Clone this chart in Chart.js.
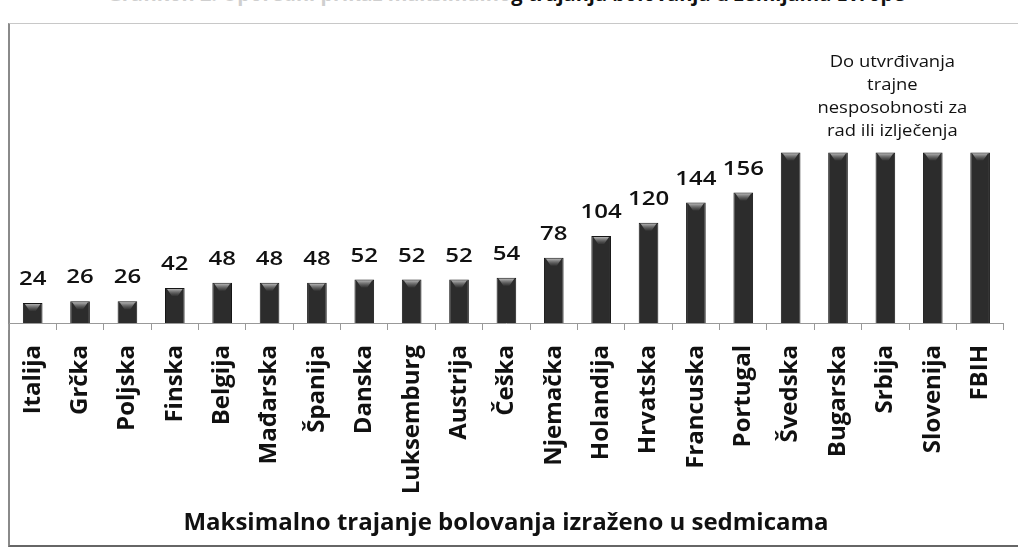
<!DOCTYPE html>
<html>
<head>
<meta charset="utf-8">
<script src="https://cdn.jsdelivr.net/npm/chart.js@4"></script>
<style>
  html, body { margin:0; padding:0; background:#fff; }
  #wrap { position:relative; width:1018px; height:550px; overflow:hidden; background:#fff; }
  #frame { position:absolute; left:8px; top:23px; width:1030px; height:521px;
           border-left:2px solid #8a8a8a; border-top:1px solid #c8c8c8; border-bottom:2px solid #666; }
  #toptitle { position:absolute; top:-20px; right:113px; font:bold 20px "Open Sans", sans-serif;
              white-space:nowrap; color:#111; }
  #toptitle .faint { color:#cfcfcf; }
  canvas { position:absolute; left:0; top:0; }
</style>
</head>
<body>
<div id="wrap">
  <div id="toptitle"><span class="faint">Grafikon 2. Uporedni prikaz maksimalno</span>g trajanja bolovanja u zemljama Evrope</div>
  <div id="frame"></div>
  <canvas id="c" width="1024" height="550"></canvas>
</div>
<script>
// ---- data ----
const categories = ["Italija","Grčka","Poljska","Finska","Belgija","Mađarska","Španija","Danska","Luksemburg","Austrija","Češka","Njemačka","Holandija","Hrvatska","Francuska","Portugal","Švedska","Bugarska","Srbija","Slovenija","FBIH"];
// weeks; the last five ("until recovery / permanent incapacity") are drawn at their pictured height
const barValues = [24,26,26,42,48,48,48,52,52,52,54,78,104,120,144,156,204,204,204,204,204];
const valueLabels = ["24","26","26","42","48","48","48","52","52","52","54","78","104","120","144","156","","","","",""];
const noteLines = ["Do utvrđivanja","trajne","nesposobnosti za","rad ili izlječenja"];
const axisTitle = "Maksimalno trajanje bolovanja izraženo u sedmicama";

const decorPlugin = {
  id: 'decor',
  afterDatasetsDraw(chart) {
    const ctx = chart.ctx;
    const meta = chart.getDatasetMeta(0);
    ctx.save();
    // bar top highlights
    meta.data.forEach(bar => {
      const w = bar.width, x0 = bar.x - w/2;
      const g = ctx.createLinearGradient(0, bar.y, 0, bar.y + 9);
      g.addColorStop(0, 'rgba(215,215,215,0.95)');
      g.addColorStop(1, 'rgba(120,120,120,0)');
      ctx.fillStyle = g;
      ctx.beginPath();
      ctx.moveTo(x0 + 2, bar.y + 1);
      ctx.lineTo(x0 + w - 2, bar.y + 1);
      ctx.lineTo(bar.x + 3, bar.y + 8);
      ctx.lineTo(bar.x - 3, bar.y + 8);
      ctx.closePath();
      ctx.fill();
    });
    // value labels
    ctx.fillStyle = '#111';
    ctx.textAlign = 'center';
    ctx.textBaseline = 'alphabetic';
    ctx.font = '600 20px "Open Sans", sans-serif';
    meta.data.forEach((bar, i) => {
      const t = valueLabels[i];
      if (!t) return;
      ctx.save();
      ctx.translate(bar.x, bar.y - 18);
      ctx.scale(1.2, 1);
      ctx.fillText(t, 0, 0);
      ctx.restore();
    });
    // note above the open-ended bars
    const mid = meta.data[18];
    ctx.font = '16px "Open Sans", sans-serif';
    const baseY = mid.y - 85;
    noteLines.forEach((line, k) => {
      ctx.save();
      ctx.translate(mid.x + 7, baseY + k * 23);
      ctx.scale(1.15, 1);
      ctx.fillText(line, 0, 0);
      ctx.restore();
    });
    // axis title
    ctx.font = 'bold 24px "Open Sans", sans-serif';
    ctx.fillText(axisTitle, 506, 530, 727);
    ctx.restore();
  }
};

new Chart(document.getElementById('c'), {
  type: 'bar',
  data: {
    labels: categories,
    datasets: [{
      data: barValues,
      backgroundColor: '#2c2c2c',
      borderColor: '#161616',
      borderWidth: 1,
      barPercentage: 0.415,
      categoryPercentage: 1.0
    }]
  },
  options: {
    responsive: false,
    devicePixelRatio: 1,
    animation: false,
    layout: { padding: { left: 9, right: 3, top: 22, bottom: 0 } },
    plugins: { legend: { display: false }, tooltip: { enabled: false }, title: { display: false } },
    scales: {
      x: {
        offset: true,
        grid: { display: true, drawOnChartArea: false, drawTicks: true, tickLength: 7, color: '#999', offset: true },
        border: { display: true, color: '#999', width: 1 },
        ticks: {
          color: '#111',
          font: { family: '"Open Sans", sans-serif', size: 24, weight: 'bold' },
          minRotation: 90, maxRotation: 90, autoSkip: false, padding: 15
        },
        afterFit(scale) { scale.height = 227; }
      },
      y: { display: false, min: 0, max: 360 }
    }
  },
  plugins: [decorPlugin]
});
</script>
</body>
</html>
